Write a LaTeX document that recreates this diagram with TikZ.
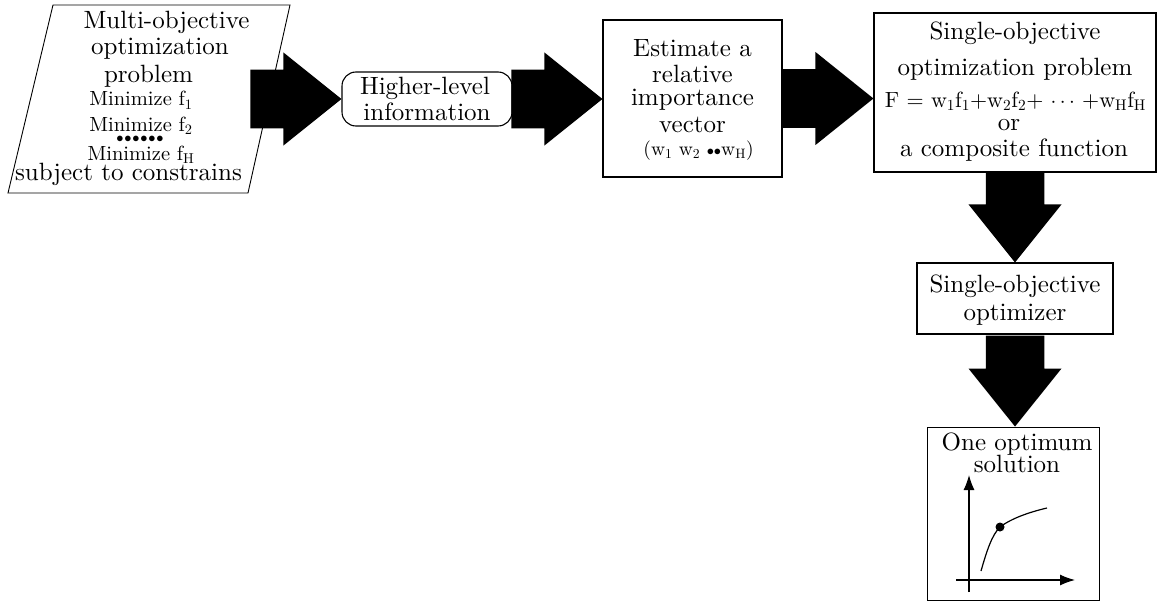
\documentclass[tikz,border=0pt]{standalone}
\usepackage{fontspec}
\setmainfont{lmroman10}[Extension=.otf, UprightFont=*-regular, BoldFont=*-bold,
  ItalicFont=*-italic, BoldItalicFont=*-bolditalic]
\usetikzlibrary{arrows.meta,calc}

% type sizes used in the flow chart
\newcommand\bigfont{\fontsize{25}{26}\selectfont}
\newcommand\smallfont{\fontsize{20.5}{22}\selectfont}
\newcommand\vecfont{\fontsize{19.5}{22}\selectfont}
\newcommand\eqfont{\fontsize{22}{24}\selectfont}
\newcommand\rowdot{$\scriptstyle\bullet$}

% thick block arrows, tip at the given point
\newcommand\flowright[1]{\fill[blockarrow, shift={(#1)}]
  (-91,-29.25) -- (-58,-29.25) -- (-58,-46.5) -- (0,0) -- (-58,46.5)
  -- (-58,29.25) -- (-91,29.25) -- cycle;}
\newcommand\flowdown[1]{\fill[blockarrow, shift={(#1)}]
  (-29.25,-91) -- (-29.25,-58) -- (-46.5,-58) -- (0,0) -- (46.5,-58)
  -- (29.25,-58) -- (29.25,-91) -- cycle;}

\tikzset{
  boxline/.style={draw=black, line width=1.1pt, fill=white},
  pbox/.style={boxline, rectangle, inner sep=0pt},
  bigtxt/.style={anchor=base, inner sep=0pt, font=\bigfont},
  smalltxt/.style={anchor=base, inner sep=0pt, font=\smallfont},
  blockarrow/.style={fill=black},
  axis/.style={line width=1.2pt, -{Latex[length=15pt,width=11pt]}},
}

\begin{document}
\begin{tikzpicture}[x=1pt, y=-1pt]
\useasboundingbox (0,0) rectangle (1157,602);

% input problem (parallelogram)
\draw[boxline, line width=0.9pt] (53,5) -- (290,5) -- (248,193) -- (8,193) -- cycle;
\coordinate (mop) at (149,99);
\node[bigtxt] (mop1) at (166.5,29) {Multi-objective};
\node[bigtxt] (mop2) at (160,55) {optimization};
\node[bigtxt] (mop3) at (148.5,82) {problem};
\node[smalltxt] (mop4) at (141,106) {Minimize f\textsubscript{1}};
\node[smalltxt] (mop5) at (141,131) {Minimize f\textsubscript{2}};
\node[smalltxt] (mop6) at (140,142)
  {\rowdot\kern0.8pt\rowdot\kern0.8pt\rowdot\kern0.8pt\rowdot\kern0.8pt\rowdot\kern0.8pt\rowdot};
\node[smalltxt] (mop7) at (141,160) {Minimize f\textsubscript{H}};
\node[bigtxt] (mop8) at (128.5,180) {subject to constrains};

% higher-level information
\node[pbox, rounded corners=14pt, minimum width=170pt, minimum height=54pt] (hl) at (427,99) {};
\node[bigtxt] (hl1) at (425,95) {Higher-level};
\node[bigtxt] (hl2) at (427,120) {information};

% relative importance vector
\node[pbox, minimum width=179pt, minimum height=157pt] (est) at (692.5,98.5) {};
\node[bigtxt] (est1) at (692.5,57) {Estimate a};
\node[bigtxt] (est2) at (692.5,82) {relative};
\node[bigtxt] (est3) at (692.5,105) {importance};
\node[bigtxt] (est4) at (692.5,132) {vector};
\node[anchor=base, inner sep=0pt, font=\vecfont] (est5) at (698.5,155)
  {(w\textsubscript{1} w\textsubscript{2} $\scriptstyle\bullet\bullet$w\textsubscript{H})};

% single-objective problem
\node[pbox, minimum width=282pt, minimum height=159pt] (sop) at (1015,92.5) {};
\node[bigtxt] (sop1) at (1015,40) {Single-objective};
\node[bigtxt] (sop2) at (1015,76) {optimization problem};
\node[anchor=base, inner sep=0pt, font=\eqfont] (sop3) at (1015.5,107)
  {F = w\textsubscript{1}f\textsubscript{1}+w\textsubscript{2}f\textsubscript{2}+ $\cdots$ +w\textsubscript{H}f\textsubscript{H}};
\node[bigtxt] (sop4) at (1009,130) {or};
\node[bigtxt] (sop5) at (1014,156) {a composite function};

% optimizer
\node[pbox, minimum width=196pt, minimum height=71pt] (opt) at (1015,298.5) {};
\node[bigtxt] (opt1) at (1015,292) {Single-objective};
\node[bigtxt] (opt2) at (1015,320) {optimizer};

% result
\node[pbox, line width=0.9pt, minimum width=172pt, minimum height=173pt] (sol) at (1013,513.5) {};
\node[bigtxt] (sol1) at (1017,450) {One optimum};
\node[bigtxt] (sol2) at (1017,472) {solution};

% small sketch of the optimum on a curve
\coordinate (xa0) at (956,580);
\coordinate (xa1) at (1075,580);
\coordinate (ya0) at (969,592);
\coordinate (ya1) at (969,475);
\coordinate (c0) at (981,571);
\coordinate (c1) at (1000,527);
\coordinate (c2) at (1047,508);
\draw[axis] (xa0) -- (xa1);
\draw[axis] (ya0) -- (ya1);
\draw[line width=1.2pt] (c0) .. controls (987,550) and (992,535) .. (c1)
  .. controls (1012,518) and (1030,512) .. (c2);
\fill (c1) circle (4.5);

% block arrows between the stages
\flowright{hl.west |- mop}
\flowright{est.west |- hl}
\flowright{sop.west |- est}
\flowdown{sop |- opt.north}
\flowdown{opt |- sol.north}
\end{tikzpicture}
\end{document}
